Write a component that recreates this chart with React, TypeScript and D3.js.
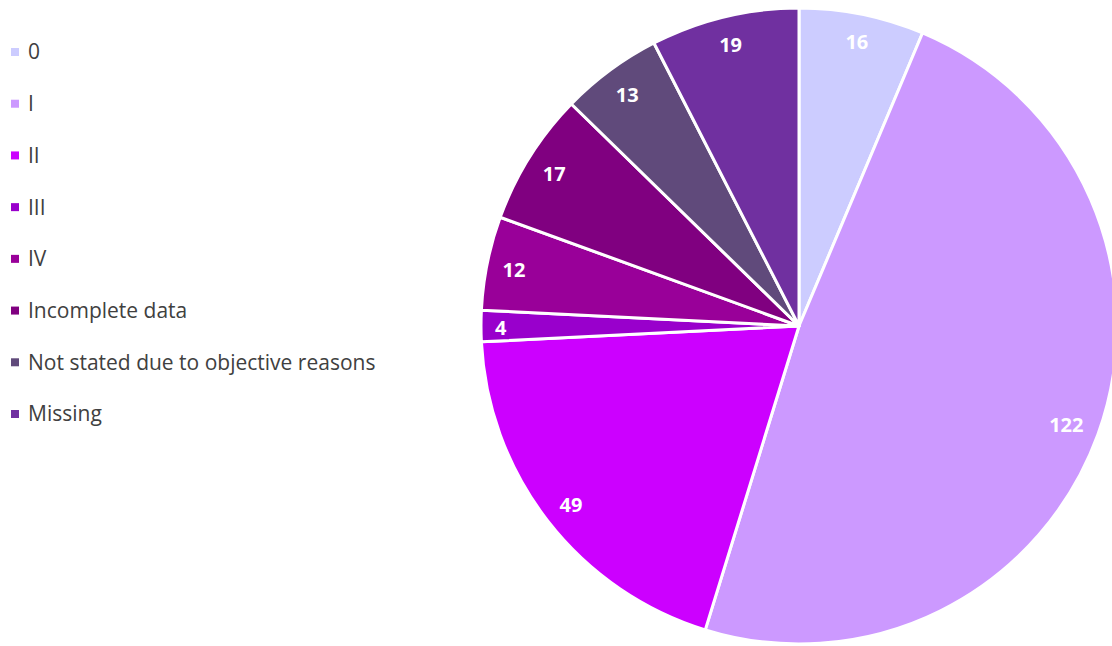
import React from "react";
import * as d3 from "d3";

const categories = ["0", "I", "II", "III", "IV", "Incomplete data", "Not stated due to objective reasons", "Missing"];
const values = [16, 122, 49, 4, 12, 17, 13, 19];
const colors = ["#CCCCFF", "#CC99FF", "#CC00FF", "#9900CC", "#990099", "#800080", "#604A7B", "#7030A0"];

const W = 1112;
const H = 646;
const cx = 799;
const cy = 326;
const R = 318;

export default function App() {
  const pie = d3.pie<number>().sort(null).value((d) => d);
  const arcs = pie(values);
  const arcGen = d3.arc<d3.PieArcDatum<number>>().innerRadius(0).outerRadius(R);

  const legendY = d3.scalePoint<string>().domain(categories).range([52, 414]);

  const labelPos = (a: d3.PieArcDatum<number>, text: string) => {
    const mid = (a.startAngle + a.endAngle) / 2;
    const s = Math.sin(mid);
    const c = Math.cos(mid);
    const w = text.length * 11.4;
    const hh = 10;
    const extent = Math.abs(s) * w / 2 + Math.abs(c) * hh;
    const r = R - 14 - extent;
    return [cx + s * r, cy - c * r];
  };

  return (
    <svg width={W} height={H} style={{ position: "absolute", left: 0, top: 0, display: "block" }}
      fontFamily="'Open Sans', 'Liberation Sans', sans-serif">
      <rect x={0} y={0} width={W} height={H} fill="#ffffff" />
      <g transform={`translate(${cx},${cy})`}>
        {arcs.map((a, i) => (
          <path key={i} d={arcGen(a) || ""} fill={colors[i]} stroke="#ffffff" strokeWidth={3} strokeLinejoin="round" />
        ))}
      </g>
      {arcs.map((a, i) => {
        const t = String(values[i]);
        const [x, y] = labelPos(a, t);
        return (
          <text key={i} x={x} y={y} dy="0.45em" textAnchor="middle" fill="#ffffff" fontWeight="bold" fontSize={20}>
            {t}
          </text>
        );
      })}
      {categories.map((c, i) => (
        <g key={c} transform={`translate(0,${legendY(c)})`}>
          <rect x={11} y={-4} width={8} height={8} fill={colors[i]} />
          <text x={28} y={0} dy="0.35em" fontSize={21} fill="#404040">{c}</text>
        </g>
      ))}
    </svg>
  );
}
